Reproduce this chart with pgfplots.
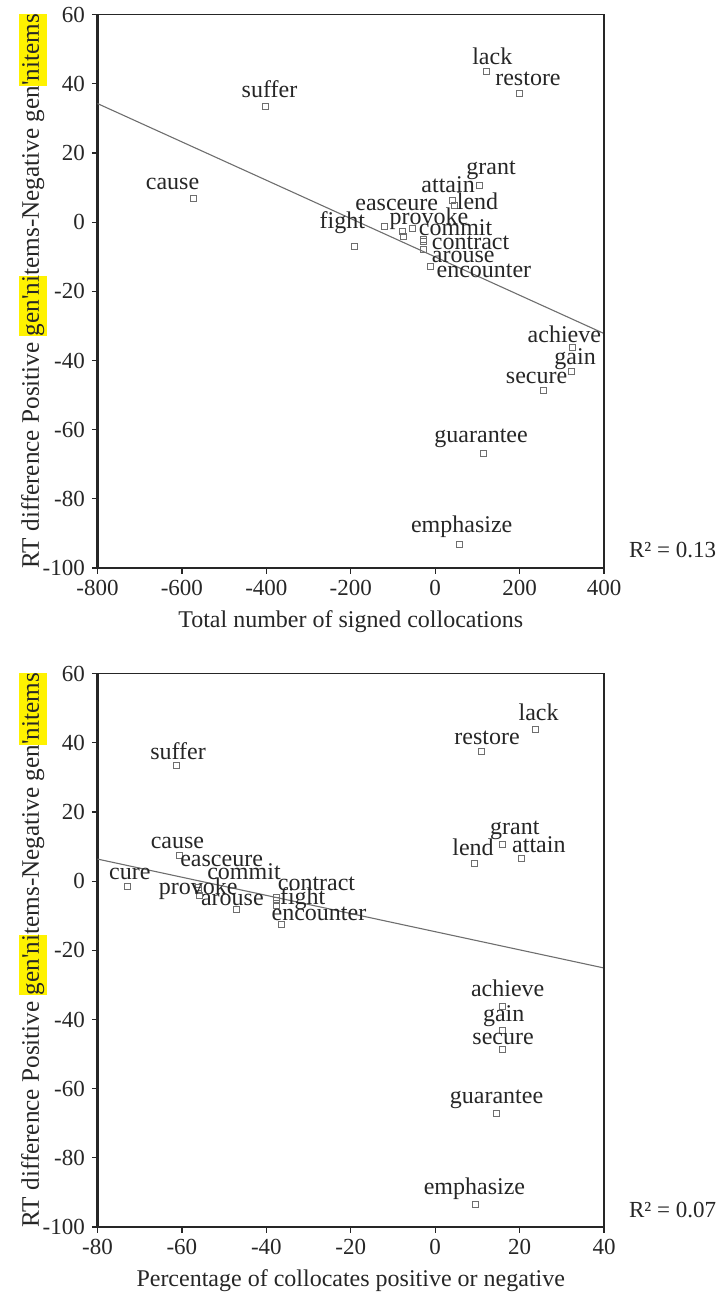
\documentclass[border=0pt]{standalone}
\usepackage{fontspec}
\setmainfont{Liberation Serif}
\usepackage{pgfplots}
\pgfplotsset{compat=1.18}

\definecolor{ptgray}{HTML}{6E6E6E}
\newcommand{\hl}[1]{\begingroup\setlength{\fboxsep}{0pt}\colorbox{yellow}{\rule[-4pt]{0pt}{14pt}#1}\endgroup}
\newcommand{\rtlabel}{RT difference Positive \hl{gen\textquotesingle ni}tems-Negative gen\hl{\textquotesingle nitems}}

\pgfplotsset{
  rtaxis/.style={
    scale only axis, width=253.25pt, height=276.65pt,
    clip=false,
    ymin=-100, ymax=60, ytick={-100,-80,...,60},
    axis x line*=bottom, axis y line*=left,
    axis line style={line width=1.1pt, black!85},
    tick align=outside, major tick length=2.8pt,
    tick style={black!85, line width=0.6pt},
    tick label style={font=\fontsize{11.5}{13}\selectfont, black!85},
    /pgf/number format/assume math mode=true,
    label style={font=\fontsize{12}{14}\selectfont, black!85},
    ylabel={\rtlabel},
    ylabel style={at={([xshift=-32.25pt]axis description cs:0,0.5)}, anchor=center,
      font=\fontsize{12.6}{14}\selectfont},
    xlabel style={at={([yshift=-27pt]axis description cs:0.5,0)}, anchor=center},
  },
  lbl/.style={
    only marks, mark=square, mark size=1.5pt,
    mark options={draw=ptgray, line width=0.45pt},
    point meta=explicit symbolic,
    visualization depends on={\thisrow{dx}\as\dx},
    visualization depends on={\thisrow{dy}\as\dy},
    nodes near coords,
    every node near coord/.append style={anchor=base, xshift=\dx pt, yshift=\dy pt,
      font=\fontsize{12}{14}\selectfont, text=black!85, inner sep=0pt},
  },
  plain/.style={only marks, mark=square, mark size=1.5pt,
    mark options={draw=ptgray, line width=0.45pt}},
  fit/.style={ptgray, line width=0.55pt, no marks},
}

\begin{document}
\begin{tikzpicture}
\path[use as bounding box] (-48.75pt,-363pt) rectangle (309.75pt,284pt);

% top: total number of signed collocations
\begin{axis}[rtaxis, at={(0,0)}, anchor=south west,
  xmin=-800, xmax=400, xtick={-800,-600,...,400},
  xlabel={Total number of signed collocations}]
\addplot[fit] coordinates {(-800,34.3) (400,-32.2)};
\addplot[lbl] table[meta=label] {
x      y      label      dx     dy
-402   33.5   suffer     2.0    4.5
-572   6.9    cause      -10.6  4.2
-192   -6.9   fight      -5.9   8.7
122    43.5   lack       2.8    3.8
200    37.1   restore    4.2    4.3
105    10.5   grant      5.8    5.8
41     6.2    attain     -2.2   4.0
44.5   4.9    lend       11.8   -2.2
-121   -1.1   easceure   6.3    7.5
-76    -4.0   provoke    12.9   6.0
-54    -1.9   commit     21.6   -3.2
-27    -5.0   contract   23.4   -4.8
-27    -7.9   arouse     19.7   -6.5
-10.6  -12.7  encounter  26.6   -5.7
326    -36.2  achieve    -4.2   2.3
324    -43.1  gain       1.6    3.5
256    -48.6  secure     -3.3   3.3
113.6  -66.9  guarantee  -1.0   5.3
58.5   -93.2  emphasize  0.9    6.0
};
\addplot[plain] coordinates {(-77.6,-2.6) (-27,-5.7)};
\draw[black!85, line width=0.6pt] (rel axis cs:0,1) -- (rel axis cs:1,1) -- (rel axis cs:1,0);
\node[anchor=base west, font=\fontsize{11.5}{13}\selectfont, text=black!85]
  at ([xshift=9pt, yshift=5pt]rel axis cs:1,0) {R² = 0.13};
\end{axis}

% bottom: percentage of collocates
\begin{axis}[rtaxis, at={(0,-329.5pt)}, anchor=south west,
  xmin=-80, xmax=40, xtick={-80,-60,...,40},
  xlabel={Percentage of collocates positive or negative}]
\addplot[fit] coordinates {(-80,6.4) (40,-25.1)};
\addplot[lbl] table[meta=label] {
x      y      label      dx     dy
-61.3  33.4   suffer     0.8    3.3
-60.5  7.4    cause      -1.2   3.7
-56    -2.6   easceure   11.4   11.8
-56    -1.9   commit     22.6   4.3
-72.9  -1.5   cure       1.2    3.3
-55.9  -4.2   provoke    -0.5   0.5
-47    -8.3   arouse     -2.2   2.0
-37.5  -4.7   contract   19.8   3.3
-37.5  -6.9   fight      12.9   0.5
-36.4  -12.6  encounter  18.7   2.3
23.7   43.8   lack       1.7    4.5
11.0   37.5   restore    2.7    3.7
15.9   10.5   grant      6.3    5.0
9.35   5.2    lend       -0.8   3.7
20.4   6.7    attain     8.8    2.8
16.0   -36.1  achieve    2.5    4.7
16.0   -43.3  gain       0.5    4.7
16.0   -48.8  secure     0.2    2.5
14.4   -67.1  guarantee  0.3    4.8
9.5    -93.4  emphasize  -0.4   5.0
};
\addplot[plain] coordinates {(-37.5,-5.7)};
\draw[black!85, line width=0.6pt] (rel axis cs:0,1) -- (rel axis cs:1,1) -- (rel axis cs:1,0);
\node[anchor=base west, font=\fontsize{11.5}{13}\selectfont, text=black!85]
  at ([xshift=9pt, yshift=5pt]rel axis cs:1,0) {R² = 0.07};
\end{axis}
\end{tikzpicture}
\end{document}
